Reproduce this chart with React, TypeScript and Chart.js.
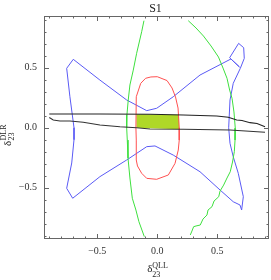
import React, { useEffect, useRef } from "react";
import { Chart, registerables } from "chart.js";

Chart.register(...registerables);

// ---- data ----
const title = "S1";
const xRange = [-0.944, 0.931];
const yRange = [-0.9275, 0.931];
const majorTicks = [-0.5, 0, 0.5];
const minorTicks = [-0.9, -0.8, -0.7, -0.6, -0.4, -0.3, -0.2, -0.1, 0.1, 0.2, 0.3, 0.4, 0.6, 0.7, 0.8, 0.9];

const blueLoop: [number, number][] = [
  [-0.70, 0.57], [-0.755, 0.495], [-0.728, 0.258], [-0.694, 0.0], [-0.694, -0.10],
  [-0.713, -0.294], [-0.755, -0.505], [-0.705, -0.588], [-0.478, -0.408], [-0.255, -0.269],
  [-0.088, -0.158], [-0.019, -0.152], [0.133, -0.228], [0.356, -0.367], [0.523, -0.519],
  [0.633, -0.617], [0.689, -0.644], [0.703, -0.686], [0.717, -0.575], [0.675, -0.38],
  [0.633, -0.242], [0.606, -0.13], [0.595, 0.0], [0.606, 0.231], [0.633, 0.37],
  [0.692, 0.495], [0.725, 0.578], [0.72, 0.667], [0.678, 0.703], [0.603, 0.583],
  [0.685, 0.506], [0.614, 0.573], [0.356, 0.439], [0.133, 0.258], [-0.005, 0.162],
  [-0.088, 0.142], [-0.255, 0.231], [-0.478, 0.397], [-0.70, 0.57],
];

const greenLeft: [number, number][] = [
  [-0.111, 0.892], [-0.13, 0.80], [-0.172, 0.62], [-0.2, 0.48], [-0.228, 0.356],
  [-0.242, 0.231], [-0.253, 0.106], [-0.255, 0.0], [-0.25, -0.103], [-0.244, -0.253],
  [-0.228, -0.419], [-0.208, -0.588], [-0.178, -0.686], [-0.153, -0.783], [-0.108, -0.908],
];

const greenRight: [number, number][] = [
  [0.258, 0.892], [0.323, 0.831], [0.385, 0.764], [0.448, 0.681], [0.51, 0.589],
  [0.548, 0.497], [0.581, 0.412], [0.603, 0.314], [0.623, 0.245], [0.639, 0.131],
  [0.65, -0.003], [0.648, -0.103], [0.642, -0.2], [0.627, -0.286], [0.608, -0.367],
  [0.581, -0.419], [0.553, -0.478], [0.523, -0.528], [0.512, -0.575], [0.473, -0.611],
  [0.456, -0.658], [0.423, -0.686], [0.414, -0.728], [0.381, -0.761], [0.358, -0.811],
  [0.323, -0.819], [0.303, -0.825], [0.289, -0.861], [0.275, -0.894],
];

const redLoop: [number, number][] = [
  [0.0, 0.425], [0.081, 0.393], [0.123, 0.331], [0.152, 0.256], [0.173, 0.164],
  [0.183, 0.0], [0.183, -0.103], [0.175, -0.186], [0.148, -0.297], [0.092, -0.394],
  [-0.005, -0.43], [-0.088, -0.422], [-0.13, -0.38], [-0.165, -0.319], [-0.175, -0.269],
  [-0.175, -0.103], [-0.178, 0.0], [-0.175, 0.258], [-0.138, 0.37], [-0.097, 0.412],
  [-0.053, 0.423], [0.0, 0.425],
];

const blackUpper: [number, number][] = [
  [-0.9, 0.114], [-0.478, 0.114], [-0.061, 0.112], [0.217, 0.106], [0.495, 0.098],
  [0.592, 0.087], [0.662, 0.064], [0.706, 0.06], [0.773, 0.042], [0.831, 0.035], [0.898, 0.008],
];

const blackLower: [number, number][] = [
  [-0.9, 0.085], [-0.867, 0.064], [-0.811, 0.056], [-0.728, 0.056], [-0.617, 0.045],
  [-0.478, 0.022], [-0.311, 0.008], [-0.172, 0.0], [-0.061, -0.011], [0.217, -0.013],
  [0.606, -0.019], [0.898, -0.038],
];

const allowedTop: [number, number][] = [[-0.175, 0.112], [0.183, 0.107]];
const allowedBottom: [number, number][] = [[-0.175, 0.0], [0.183, -0.013]];

const toPts = (a: [number, number][]) => a.map(([x, y]) => ({ x, y }));
const fmt = (v: number) => (v < 0 ? "\u2212" : "") + Math.abs(v).toFixed(1);

const SERIF = "'Liberation Serif', 'Times New Roman', serif";

const framePlugin = {
  id: "mmaFrame",
  afterDraw(chart: any) {
    const { ctx, chartArea: a, scales } = chart;
    const xs = scales.x;
    const ys = scales.y;
    ctx.save();
    ctx.strokeStyle = "#666";
    ctx.lineWidth = 1;
    ctx.strokeRect(a.left + 0.5, a.top + 0.5, a.right - a.left - 1, a.bottom - a.top - 1);
    const tick = (v: number, len: number) => {
      const px = Math.round(xs.getPixelForValue(v)) + 0.5;
      const py = Math.round(ys.getPixelForValue(v)) + 0.5;
      ctx.beginPath();
      ctx.moveTo(px, a.bottom); ctx.lineTo(px, a.bottom - len);
      ctx.moveTo(px, a.top); ctx.lineTo(px, a.top + len);
      ctx.moveTo(a.left, py); ctx.lineTo(a.left + len, py);
      ctx.moveTo(a.right, py); ctx.lineTo(a.right - len, py);
      ctx.stroke();
    };
    majorTicks.forEach((v) => tick(v, 5));
    minorTicks.forEach((v) => tick(v, 2.5));

    ctx.fillStyle = "#222";
    ctx.textBaseline = "alphabetic";
    // title
    ctx.font = `12px ${SERIF}`;
    ctx.textAlign = "center";
    ctx.fillText(title, (a.left + a.right) / 2 - 1, 12);

    // x axis title
    const cx = xs.getPixelForValue(0);
    ctx.textAlign = "left";
    ctx.font = `11px ${SERIF}`;
    ctx.fillText("\u03b4", cx - 10, 272);
    ctx.font = `8px ${SERIF}`;
    ctx.fillText("QLL", cx - 5, 267.5);
    ctx.fillText("23", cx - 5, 276.5);

    // y axis title (rotated)
    ctx.save();
    ctx.translate(10.5, 146);
    ctx.rotate(-Math.PI / 2);
    ctx.font = `11px ${SERIF}`;
    ctx.fillText("\u03b4", 0, 0);
    ctx.font = `8px ${SERIF}`;
    ctx.fillText("DLR", 5.5, -4.5);
    ctx.fillText("23", 5.5, 3.5);
    ctx.restore();
    ctx.restore();
  },
};

export default function App() {
  const ref = useRef<HTMLCanvasElement | null>(null);
  useEffect(() => {
    if (!ref.current) return;
    const line = (data: [number, number][], color: string, order: number, width = 1) => ({
      data: toPts(data),
      showLine: true,
      borderColor: color,
      borderWidth: width,
      pointRadius: 0,
      fill: false,
      tension: 0,
      order,
    });
    const chart = new Chart(ref.current, {
      type: "scatter",
      data: {
        datasets: [
          {
            data: toPts(allowedTop),
            showLine: true,
            borderWidth: 0,
            borderColor: "rgba(0,0,0,0)",
            backgroundColor: "#afd828",
            pointRadius: 0,
            fill: 1,
            order: 10,
          },
          {
            data: toPts(allowedBottom),
            showLine: true,
            borderWidth: 0,
            borderColor: "rgba(0,0,0,0)",
            pointRadius: 0,
            fill: false,
            order: 11,
          },
          line(blackUpper, "#222", 1, 1.1),
          line(blackLower, "#333", 1, 1.1),
          line(redLoop, "#ff5050", 2),
          line(greenLeft, "#3ee03e", 3),
          line(greenRight, "#3ee03e", 3),
          line(blueLoop, "#5a5af5", 4),
        ] as any,
      },
      options: {
        animation: false,
        responsive: false,
        maintainAspectRatio: false,
        layout: { padding: { top: 16, right: 2, left: 0, bottom: 0 } },
        plugins: { legend: { display: false }, tooltip: { enabled: false }, title: { display: false } },
        scales: {
          x: {
            type: "linear",
            min: xRange[0],
            max: xRange[1],
            grid: { display: false, drawTicks: false },
            border: { display: false },
            afterBuildTicks: (s: any) => { s.ticks = majorTicks.map((v) => ({ value: v })); },
            afterFit: (s: any) => { s.height = 41; },
            ticks: {
              autoSkip: false,
              maxRotation: 0,
              padding: 6,
              color: "#333",
              font: { family: SERIF, size: 10 },
              callback: (v: any) => fmt(Number(v)),
            },
          },
          y: {
            type: "linear",
            min: yRange[0],
            max: yRange[1],
            grid: { display: false, drawTicks: false },
            border: { display: false },
            afterBuildTicks: (s: any) => { s.ticks = majorTicks.map((v) => ({ value: v })); },
            afterFit: (s: any) => { s.width = 44; },
            ticks: {
              autoSkip: false,
              padding: 7,
              color: "#333",
              font: { family: SERIF, size: 10 },
              callback: (v: any) => fmt(Number(v)),
            },
          },
        },
      } as any,
      plugins: [framePlugin],
    });
    return () => chart.destroy();
  }, []);
  return (
    <div style={{ position: "absolute", left: 0, top: 0, width: 271, height: 280, background: "#fff" }}>
      <canvas ref={ref} width={271} height={280} style={{ width: 271, height: 280, display: "block" }} />
    </div>
  );
}
